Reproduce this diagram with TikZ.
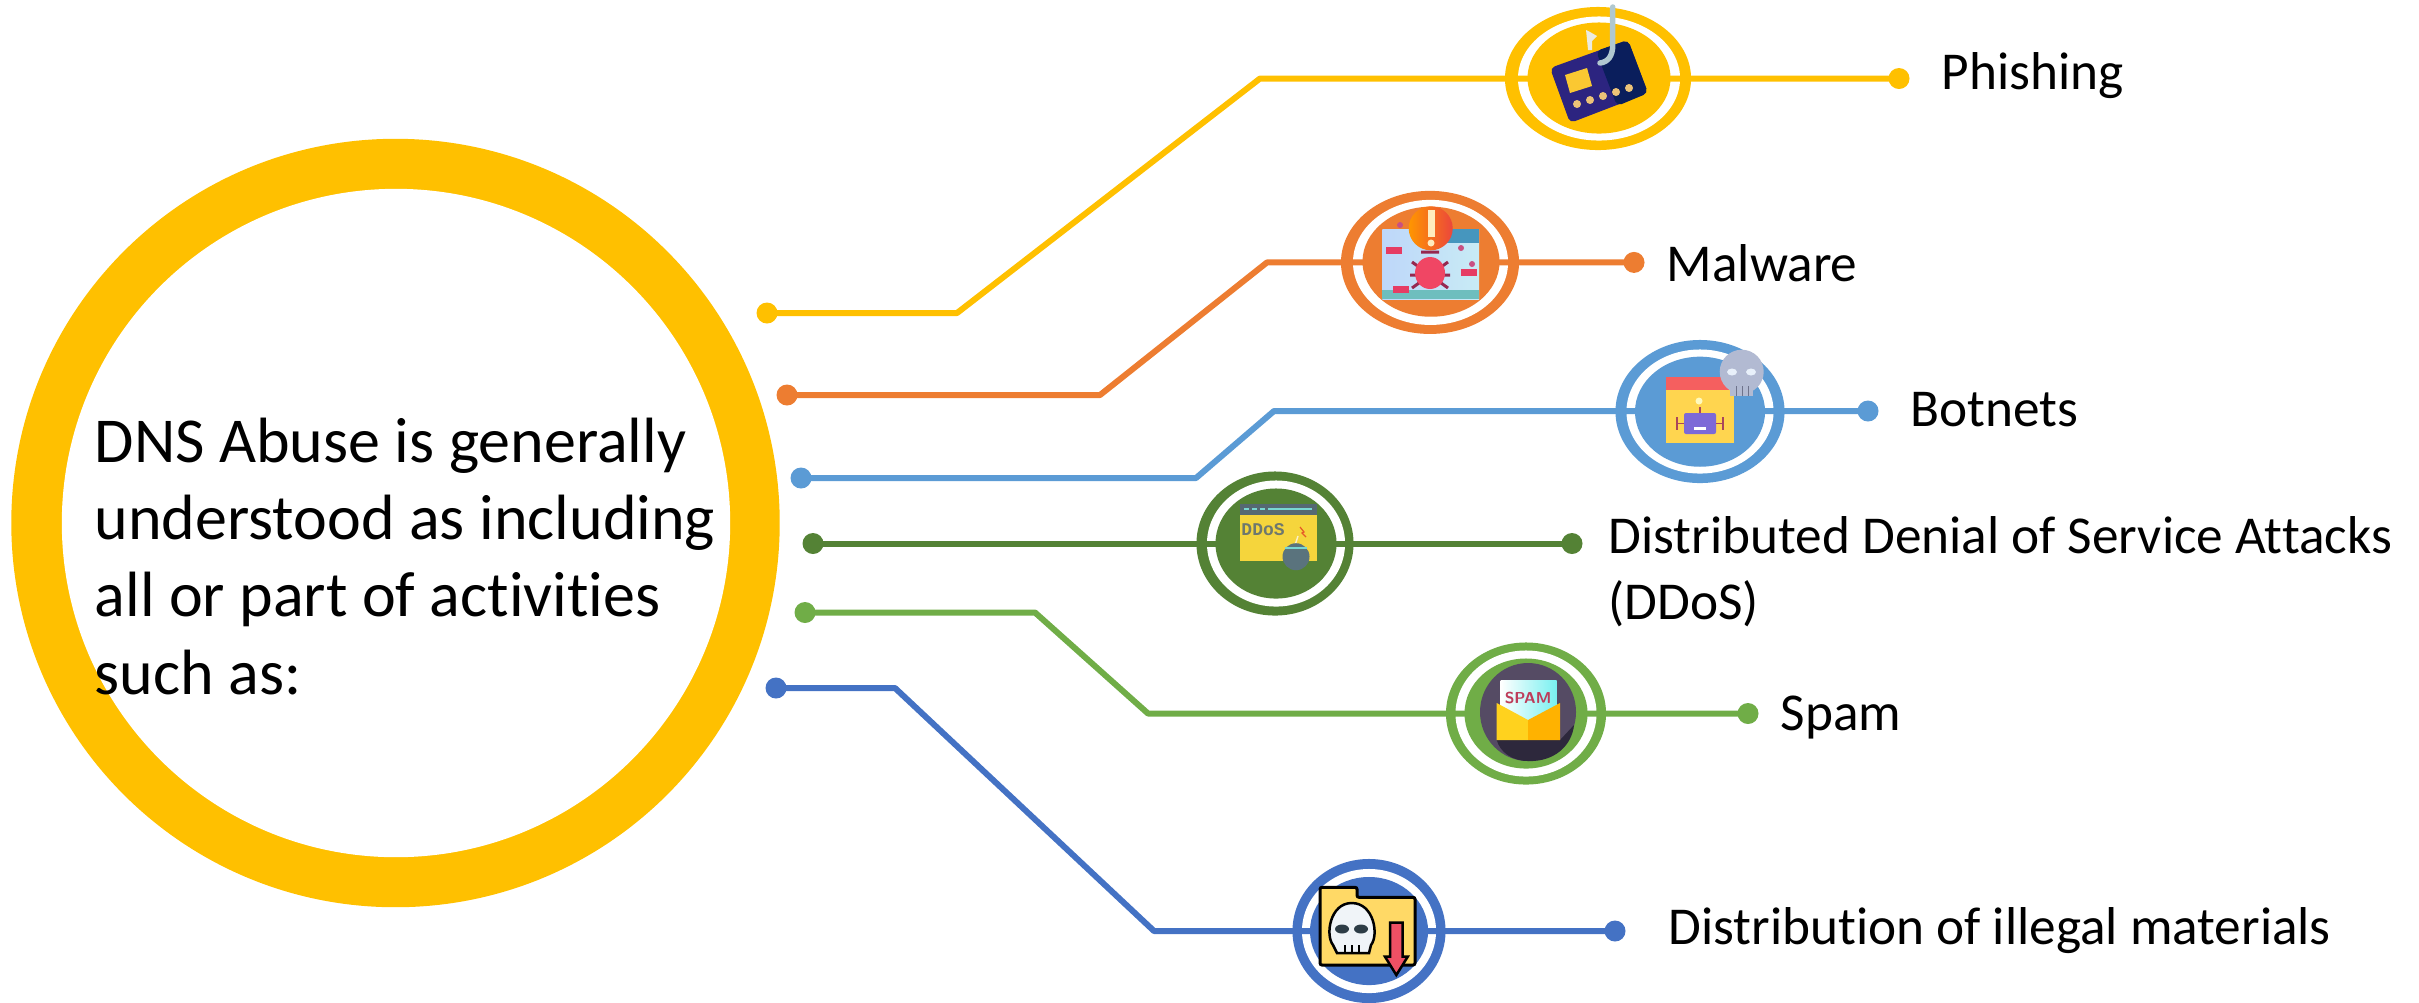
\documentclass[tikz,border=0pt]{standalone}
\usepackage{fontspec}
\setmainfont[Ligatures=NoCommon]{Carlito}
\newfontfamily\iconmono{Liberation Mono}
\usepackage{xcolor}
\usepackage{tikz}
\usetikzlibrary{shapes.geometric}
\definecolor{phishcol}{HTML}{FFC000}
\definecolor{malcol}{HTML}{ED7D31}
\definecolor{botcol}{HTML}{5B9BD5}
\definecolor{ddoscol}{HTML}{548235}
\definecolor{spamcol}{HTML}{70AD47}
\definecolor{distcol}{HTML}{4472C4}
\tikzset{
  disc/.style={ellipse,inner sep=0pt,outer sep=0pt},
  dot/.style={circle,inner sep=0pt,minimum size=0.21cm},
  wire/.style={line width=0.06cm,line join=round},
  lead/.style={anchor=base west,inner sep=0pt,font=\fontsize{15.15}{18.8}\selectfont,text=black},
  mainlabel/.style={anchor=north west,inner sep=0pt,align=left,font=\fontsize{18.2}{22}\selectfont,text=black}
}
\begin{document}
\begin{tikzpicture}[x=0.01cm,y=-0.01cm]
            \useasboundingbox (0,0) rectangle (2419,1002);
            \node [disc,fill=phishcol,minimum width=7.68cm,minimum height=7.68cm] (bigout) at (395.5,523) {};
            \node [disc,fill=white,minimum width=6.68cm,minimum height=6.68cm] (bigin) at (396,523) {};
            \node [mainlabel] (mainText) at (94,417) {DNS Abuse is generally\\understood as including\\all or part of activities\\such as:};
            \node [disc,fill=phishcol,minimum width=1.86cm,minimum height=1.43cm] (phishOut) at (1598,78.5) {};
            \node [disc,fill=white,minimum width=1.62cm,minimum height=1.24cm] (phishGap) at (1599,78.5) {};
            \node [disc,fill=malcol,minimum width=1.78cm,minimum height=1.43cm] (malOut) at (1430,262.4) {};
            \node [disc,fill=white,minimum width=1.55cm,minimum height=1.25cm] (malGap) at (1430.5,262.4) {};
            \node [disc,fill=botcol,minimum width=1.69cm,minimum height=1.43cm] (botOut) at (1700,411.5) {};
            \node [disc,fill=white,minimum width=1.47cm,minimum height=1.24cm] (botGap) at (1700,411.5) {};
            \node [disc,fill=ddoscol,minimum width=1.57cm,minimum height=1.44cm] (ddosOut) at (1275,543.5) {};
            \node [disc,fill=white,minimum width=1.38cm,minimum height=1.26cm] (ddosGap) at (1276,543.5) {};
            \node [disc,fill=spamcol,minimum width=1.60cm,minimum height=1.42cm] (spamOut) at (1526,713.5) {};
            \node [disc,fill=white,minimum width=1.41cm,minimum height=1.26cm] (spamGap) at (1526,713.5) {};
            \node [disc,fill=distcol,minimum width=1.53cm,minimum height=1.44cm] (distOut) at (1369,931) {};
            \node [disc,fill=white,minimum width=1.34cm,minimum height=1.24cm] (distGap) at (1369,931) {};
            \node [dot,fill=phishcol] (phishA) at (767,313) {};
            \coordinate (phishB) at (957,313);
            \coordinate (phishC) at (1260,78.5);
            \node [dot,fill=phishcol] (phishZ) at (1899,78.5) {};
            \draw [wire,phishcol] (phishA.center) -- (phishB) -- (phishC) -- (phishZ.center);
            \node [dot,fill=malcol] (malA) at (787,395) {};
            \coordinate (malB) at (1100,395);
            \coordinate (malC) at (1267,262.4);
            \node [dot,fill=malcol] (malZ) at (1634,262.4) {};
            \draw [wire,malcol] (malA.center) -- (malB) -- (malC) -- (malZ.center);
            \node [dot,fill=botcol] (botA) at (801,478) {};
            \coordinate (botB) at (1196,478);
            \coordinate (botC) at (1274,411);
            \node [dot,fill=botcol] (botZ) at (1868,411) {};
            \draw [wire,botcol] (botA.center) -- (botB) -- (botC) -- (botZ.center);
            \node [dot,fill=ddoscol] (ddosA) at (813,543.5) {};
            \node [dot,fill=ddoscol] (ddosZ) at (1572,543.5) {};
            \draw [wire,ddoscol] (ddosA.center) -- (ddosZ.center);
            \node [dot,fill=spamcol] (spamA) at (805,612.5) {};
            \coordinate (spamB) at (1035,612.5);
            \coordinate (spamC) at (1148,713.5);
            \node [dot,fill=spamcol] (spamZ) at (1748,713.5) {};
            \draw [wire,spamcol] (spamA.center) -- (spamB) -- (spamC) -- (spamZ.center);
            \node [dot,fill=distcol] (distA) at (776,688) {};
            \coordinate (distB) at (895,688);
            \coordinate (distC) at (1154,931);
            \node [dot,fill=distcol] (distZ) at (1615,931) {};
            \draw [wire,distcol] (distA.center) -- (distB) -- (distC) -- (distZ.center);
            \node [disc,fill=phishcol,minimum width=1.43cm,minimum height=1.11cm] (phishIn) at (1599,78) {};
            \node [disc,fill=malcol,minimum width=1.37cm,minimum height=1.10cm] (malIn) at (1431,261.7) {};
            \node [disc,fill=botcol,minimum width=1.30cm,minimum height=1.10cm] (botIn) at (1700,411.7) {};
            \node [disc,fill=ddoscol,minimum width=1.21cm,minimum height=1.10cm] (ddosIn) at (1276,543.5) {};
            \node [disc,fill=spamcol,minimum width=1.23cm,minimum height=1.10cm] (spamIn) at (1526,713.5) {};
            \node [disc,fill=distcol,minimum width=1.18cm,minimum height=1.08cm] (distIn) at (1369,931) {};
            % card
            \fill [rounded corners=0.05cm,fill={rgb,255:red,44;green,36;blue,128}] (1550,68) -- (1628,40) -- (1648,93) -- (1570,123) -- cycle;
            \fill [rounded corners=0.05cm,fill={rgb,255:red,10;green,30;blue,92}] (1596,51) -- (1628,40) -- (1648,93) -- (1617,106) -- cycle;
            \fill [fill={rgb,255:red,250;green,200;blue,50}] (1565,75) -- (1587,68) -- (1592,86) -- (1570,93) -- cycle;
            \foreach \cx/\cy in {1577/104,1590/100,1603/96,1616/92,1629/88}
                \fill [fill={rgb,255:red,235;green,195;blue,120}] (\cx,\cy) circle (4);
            \draw [line width=0.055cm,color={rgb,255:red,176;green,200;blue,208},line cap=round] (1612.7,7) -- (1612.7,45) .. controls (1612.7,56) and (1608,62) .. (1600,63);
            \fill [fill={rgb,255:red,235;green,235;blue,225}] (1586,30) -- (1590,32) -- (1597,36) -- (1592,41) -- (1592,50) -- (1588,50) -- cycle;
            % bug window
            \shade [left color={rgb,255:red,190;green,215;blue,250},right color={rgb,255:red,200;green,235;blue,245}] (1382.3,229) rectangle (1479,299);
            \fill [fill={rgb,255:red,70;green,150;blue,190}] (1445,229) rectangle (1479,243);
            \fill [fill={rgb,255:red,110;green,190;blue,190}] (1382.3,290) rectangle (1479,299);
            \foreach \bx/\by in {1386/247,1461/269,1393/286}
                \fill [fill={rgb,255:red,230;green,60;blue,100}] (\bx,\by) rectangle ++(16,7);
            \foreach \lx/\ly in {1400/225,1461/248,1472/264}
                \fill [fill={rgb,255:red,200;green,80;blue,130}] (\lx,\ly) circle (3);
            \draw [line width=0.03cm,color={rgb,255:red,150;green,40;blue,80}] (1412,262) -- (1448,288) (1448,262) -- (1412,288) (1410,275) -- (1450,275) (1421,252) -- (1439,252);
            \fill [fill={rgb,255:red,240;green,70;blue,100}] (1430,273) ellipse (15 and 16);
            \shade [left color={rgb,255:red,255;green,150;blue,0},right color={rgb,255:red,235;green,70;blue,60}] (1430.7,228.3) circle (22);
            \fill [fill={rgb,255:red,255;green,235;blue,190}] (1427.5,210) rectangle (1434.5,237);
            \fill [fill={rgb,255:red,255;green,235;blue,190}] (1431,243) circle (3.5);
            % robot window
            \fill [fill={rgb,255:red,255;green,213;blue,79}] (1666,377.3) rectangle (1734,443.3);
            \fill [fill={rgb,255:red,245;green,95;blue,95}] (1666,377.3) rectangle (1734,390);
            \fill [fill={rgb,255:red,125;green,105;blue,215},rounded corners=0.02cm] (1684,413) rectangle (1716,434);
            \draw [line width=0.012cm,color={rgb,255:red,170;green,70;blue,90}] (1677,417) -- (1677,430) (1723,417) -- (1723,430) (1677,423.5) -- (1684,423.5) (1716,423.5) -- (1723,423.5) (1700,413) -- (1700,407);
            \fill [fill={rgb,255:red,255;green,250;blue,190}] (1699,401) circle (3.5);
            \fill [fill=white] (1694,427) rectangle (1706,429.5);
            \fill [fill={rgb,255:red,178;green,186;blue,210}] (1730,385) rectangle (1753,396);
            \fill [fill={rgb,255:red,178;green,186;blue,210}] (1741.7,371.7) circle (22);
            \draw [line width=0.01cm,color={rgb,255:red,110;green,115;blue,140}] (1736,386) -- (1736,396) (1742,386) -- (1742,396) (1748,386) -- (1748,396);
            \fill [fill={rgb,255:red,232;green,240;blue,250}] (1732,372) ellipse (5 and 3.5) (1751,372) ellipse (5 and 3.5);
            % ddos window
            \fill [fill={rgb,255:red,245;green,213;blue,60}] (1240,504.3) rectangle (1316.7,561);
            \fill [fill={rgb,255:red,85;green,105;blue,115}] (1240,504.3) rectangle (1316.7,515);
            \draw [line width=0.014cm,color={rgb,255:red,120;green,215;blue,210}] (1244,509) -- (1249,509) (1252,509) -- (1257,509) (1260,509) -- (1265,509) (1268,509) -- (1312,509);
            \node [inner sep=0pt,text={rgb,255:red,110;green,120;blue,110},font=\iconmono\bfseries\fontsize{5.1}{6}\selectfont] (ddosWord) at (1263,529.3) {DDoS};
            \draw [line width=0.012cm,color={rgb,255:red,230;green,90;blue,40}] (1300,527) -- (1304,532) -- (1302,533) -- (1306,537);
            \draw [line width=0.014cm,color={rgb,255:red,250;green,240;blue,200}] (1295,545) -- (1298,536);
            \fill [fill={rgb,255:red,90;green,115;blue,125}] (1296,556.7) circle (13.5);
            \fill [fill={rgb,255:red,120;green,215;blue,210}] (1285,547) rectangle (1307,549);
            % spam envelope
            \fill [fill={rgb,255:red,85;green,75;blue,100}] (1528,712) ellipse (48 and 49);
            \fill [fill={rgb,255:red,45;green,40;blue,60}] (1560,740) -- (1574,725) .. controls (1572,745) and (1555,762) .. (1528,761) .. controls (1512,761) and (1500,752) .. (1496.7,740) -- cycle;
            \shade [left color=white,right color={rgb,255:red,120;green,240;blue,240}] (1500.7,680) rectangle (1556.7,722);
            \node [inner sep=0pt,text={rgb,255:red,190;green,60;blue,90},font=\sffamily\bfseries\fontsize{4.5}{4.5}\selectfont] (spamWord) at (1528,697.7) {SPAM};
            \fill [fill={rgb,255:red,255;green,210;blue,30}] (1496.7,703) -- (1528,720) -- (1528,740) -- (1496.7,740) -- cycle;
            \fill [fill={rgb,255:red,255;green,178;blue,0}] (1528,720) -- (1560,703) -- (1560,740) -- (1528,740) -- cycle;
            % folder
            \draw [line width=0.03cm,fill={rgb,255:red,255;green,217;blue,102},rounded corners=0.02cm] (1320,887.3) -- (1357,887.3) -- (1357,897.3) -- (1415,897.3) -- (1415,965) -- (1320,965) -- cycle;
            \draw [line width=0.025cm,fill={rgb,255:red,240;green,244;blue,248}] (1333,945) .. controls (1325,935) and (1330,903) .. (1351.7,903) .. controls (1374,903) and (1379,935) .. (1371,945) -- (1369,953) -- (1337,953) -- cycle;
            \fill [fill={rgb,255:red,45;green,60;blue,70}] (1342,929) ellipse (7 and 4.5) (1361,929) ellipse (7 and 4.5);
            \draw [line width=0.012cm] (1345,945) -- (1345,953) (1352,945) -- (1352,953) (1359,945) -- (1359,953);
            \draw [line width=0.025cm,fill={rgb,255:red,240;green,80;blue,100}] (1390,922.7) -- (1402.7,922.7) -- (1402.7,956.7) -- (1407.7,956.7) -- (1396.3,975) -- (1385,956.7) -- (1390,956.7) -- cycle;
            \node [lead] (phishText) at (1941,89.5) {Phishing};
            \node [lead] (malText) at (1666,281) {Malware};
            \node [lead] (botText) at (1910,426) {Botnets};
            \node [lead,anchor=north west,align=left] (ddosText) at (1608,516) {Distributed Denial of Service Attacks\\(DDoS)};
            \node [lead] (spamText) at (1780,730) {Spam};
            \node [lead] (distText) at (1668,944) {Distribution of illegal materials};
        \end{tikzpicture}
\end{document}
